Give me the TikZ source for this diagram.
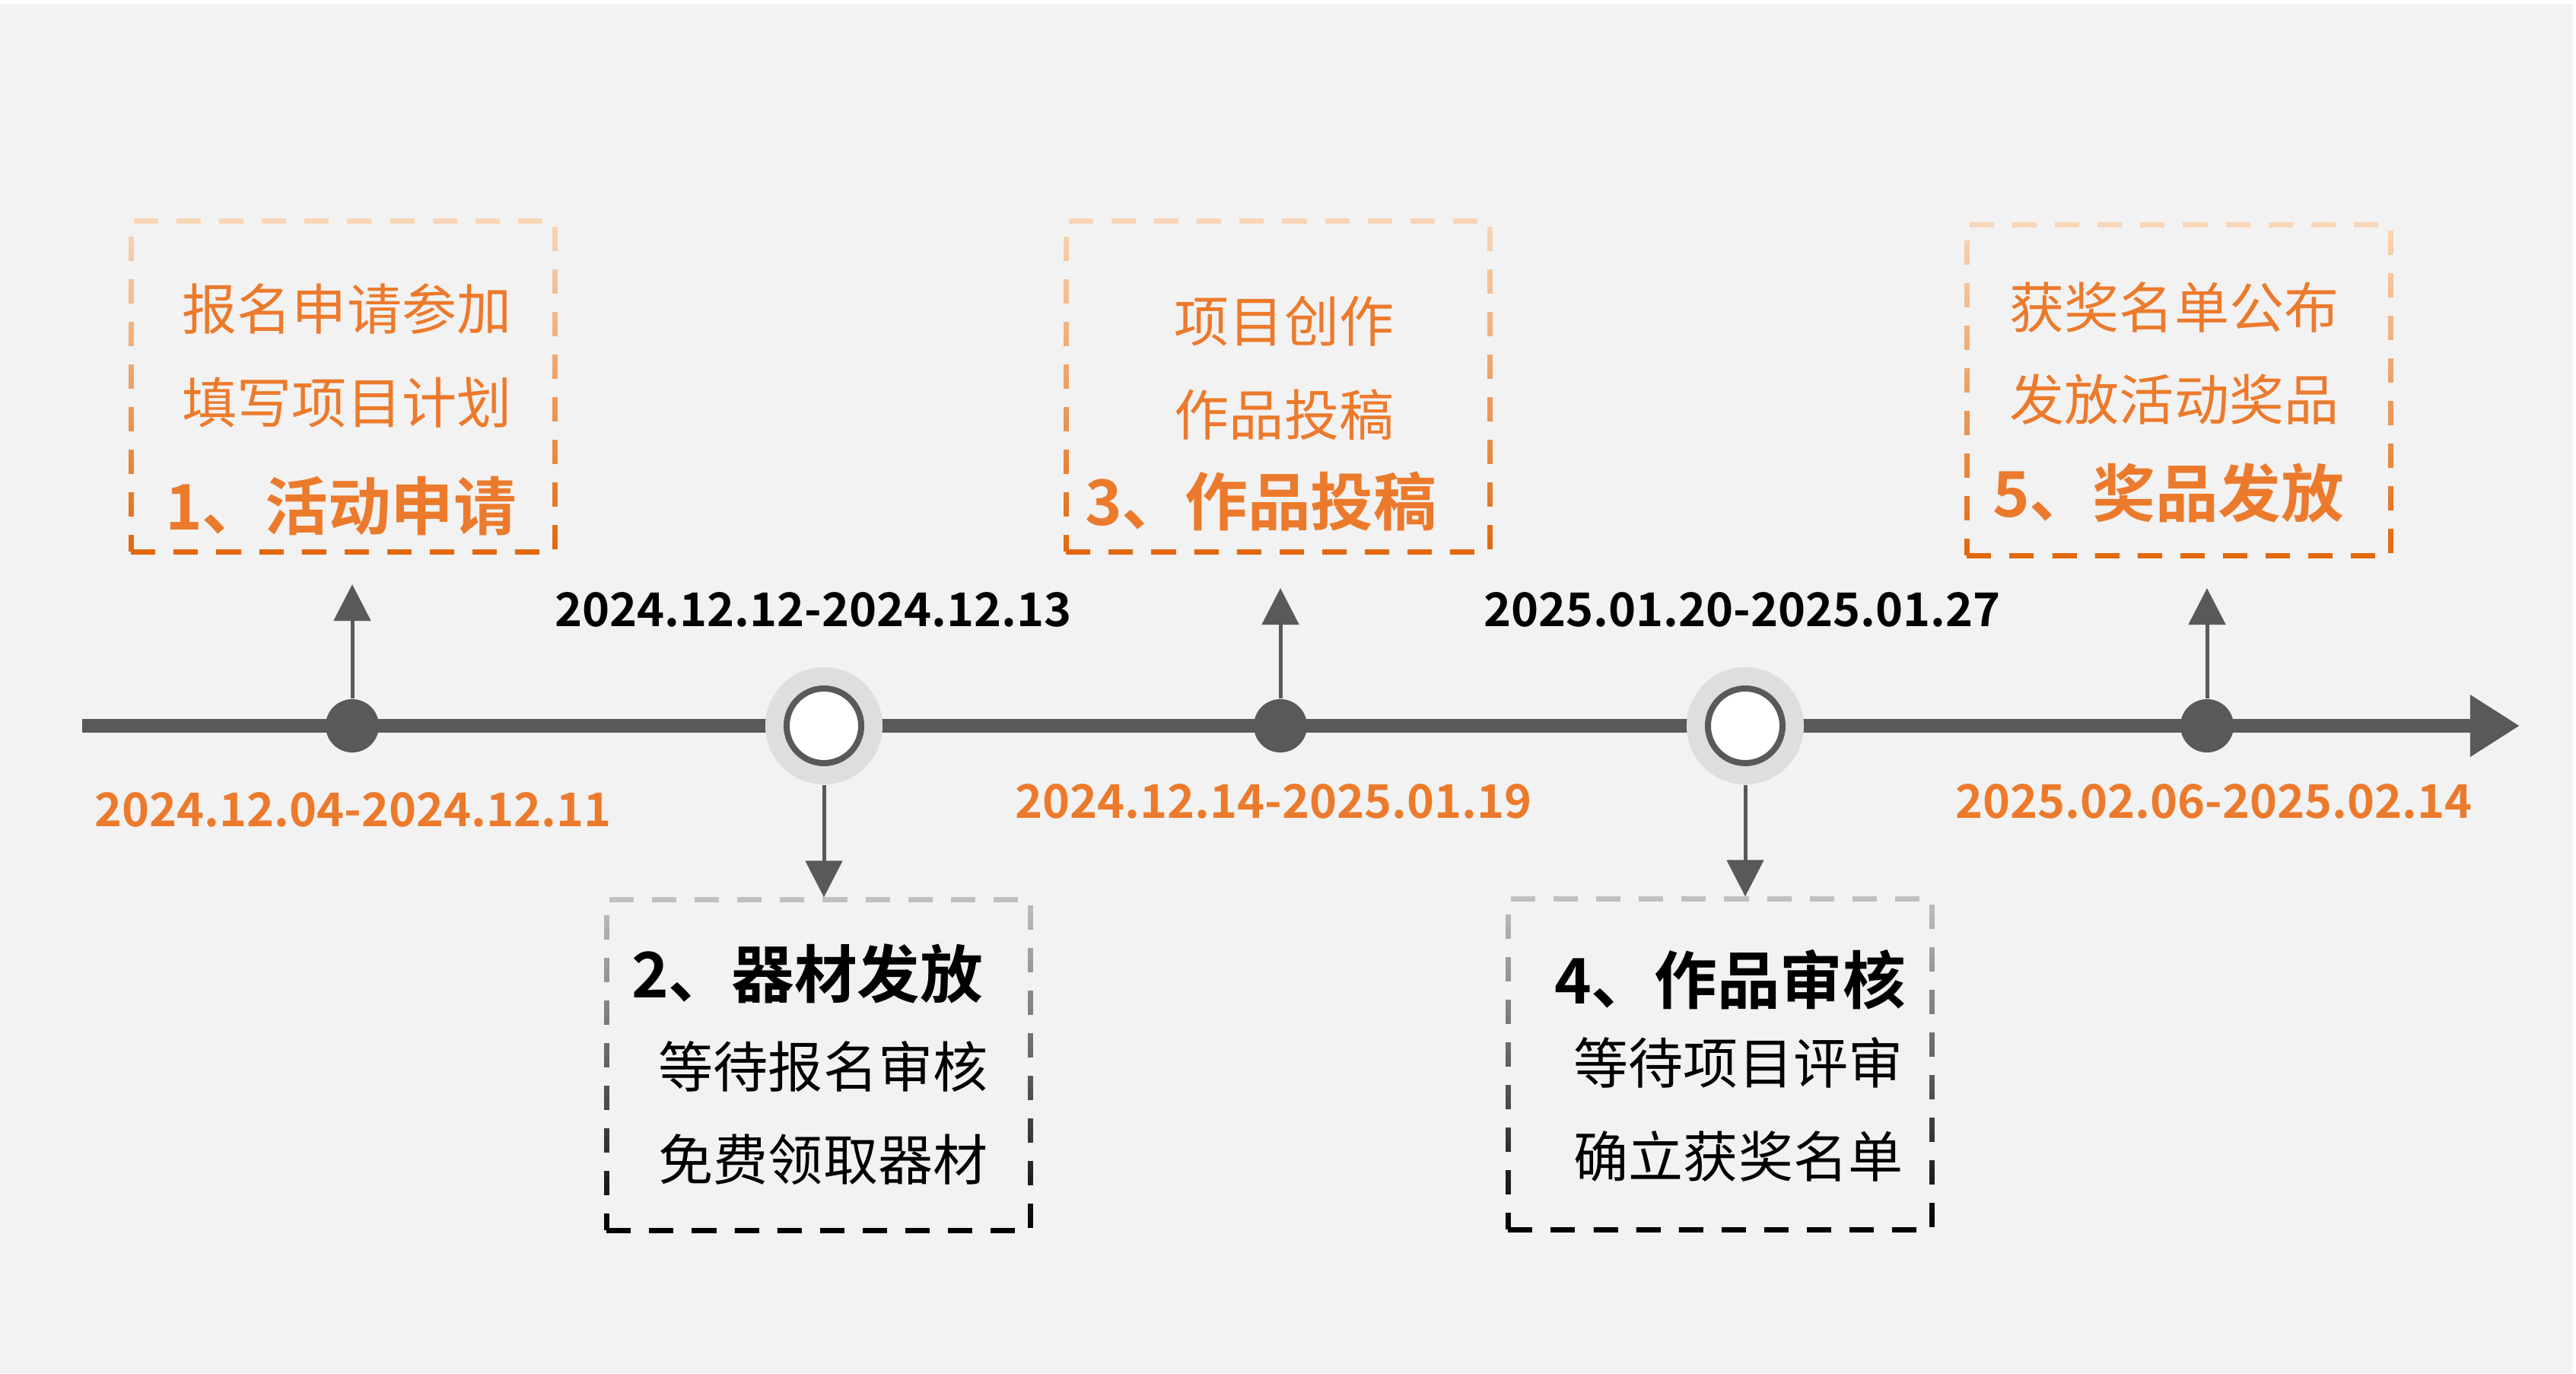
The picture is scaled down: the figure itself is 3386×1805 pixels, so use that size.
\documentclass[tikz,border=0pt]{standalone}
\usepackage{fontspec}
\setmainfont{Noto Sans CJK SC}[BoldFont={Noto Sans CJK SC Bold}]
\usetikzlibrary{calc, positioning, arrows.meta, fadings}

\definecolor{bggray}{HTML}{F2F2F2}
\definecolor{linegray}{HTML}{595959}
\definecolor{halogray}{HTML}{DEDEDE}
\definecolor{orangetxt}{HTML}{EC7A2C}
\definecolor{orangelight}{HTML}{FAD7B9}
\definecolor{orangedark}{HTML}{E2680C}
\definecolor{graylight}{HTML}{C2C2C2}

\tikzfading[name=fadetop, top color=transparent!100, bottom color=transparent!0]

\tikzset{
  stagebox/.style={rectangle, inner sep=0pt, minimum width=5.57cm, minimum height=4.34cm,
    line width=0.07cm, dash pattern=on 0.32cm off 0.24cm},
  orbox/.style={stagebox, draw=orangelight, postaction={draw=orangedark, path fading=fadetop}},
  gybox/.style={stagebox, draw=graylight, postaction={draw=black, path fading=fadetop}},
  body/.style={inner sep=0pt, font=\fontsize{20.5}{24}\selectfont},
  title/.style={inner sep=0pt, font=\fontsize{23.5}{28}\selectfont\bfseries},
  datetxt/.style={inner sep=0pt, font=\fontsize{17.4}{21}\selectfont\bfseries},
  dot/.style={circle, fill=linegray, minimum size=0.7cm, inner sep=0pt},
  halo/.style={circle, fill=halogray, minimum size=1.54cm, inner sep=0pt},
  ring/.style={circle, draw=linegray, line width=0.08cm, fill=white, minimum size=0.98cm, inner sep=0pt},
  pointer/.style={draw=linegray, line width=0.05cm, -{Triangle[length=0.48cm, width=0.48cm]}},
  mainline/.style={draw=linegray, line width=0.18cm, -{Triangle[length=0.65cm, width=0.77cm]}}
}

\begin{document}
\begin{tikzpicture}[x=0.01cm, y=-0.01cm]
  % Background
  \fill[white] (0,0) rectangle (3386,1805);
  \fill[bggray] (0,5) rectangle (3382,1805);

  % Timeline
  \coordinate (start) at (108,954);
  \coordinate (end) at (3312,954);
  \draw[mainline] (start) -- (end);

  % Stage markers
  \node[dot] (dot1) at (463,954) {};
  \node[halo] (halo2) at (1083,954) {};
  \node[ring] (ev2) at (halo2) {};
  \node[dot] (dot3) at (1683,954) {};
  \node[halo] (halo4) at (2294,954) {};
  \node[ring] (ev4) at (halo4) {};
  \node[dot] (dot5) at (2901,954) {};

  % Stage boxes
  \node[orbox] (box1) at (451,508) {};
  \node[gybox] (box2) at (1076,1400) {};
  \node[orbox] (box3) at (1680,508) {};
  \node[gybox] (box4) at (2261,1399) {};
  \node[orbox] (box5) at (2864,513) {};

  % Pointers
  \coordinate (up1) at ($(dot1)+(0,-186)$);
  \coordinate (up3) at ($(dot3)+(0,-181)$);
  \coordinate (up5) at ($(dot5)+(0,-181)$);
  \draw[pointer] (dot1) -- (up1);
  \draw[pointer] (dot3) -- (up3);
  \draw[pointer] (dot5) -- (up5);
  \draw[pointer] (halo2.south) -- (halo2 |- box2.north);
  \draw[pointer] (halo4.south) -- (halo4 |- box4.north);

  % Box 1
  \node[body, text=orangetxt] (s1a) at (456,406) {报名申请参加};
  \node[body, text=orangetxt] (s1b) at (456,529) {填写项目计划};
  \node[title, text=orangetxt] (s1t) at (448,665) {1、活动申请};

  % Box 2
  \node[title] (s2t) at (1061,1280) {2、器材发放};
  \node[body] (s2a) at (1082,1402) {等待报名审核};
  \node[body] (s2b) at (1082,1524) {免费领取器材};

  % Box 3
  \node[body, text=orangetxt] (s3a) at (1688,422) {项目创作};
  \node[body, text=orangetxt] (s3b) at (1688,545) {作品投稿};
  \node[title, text=orangetxt] (s3t) at (1657,659) {3、作品投稿};

  % Box 4
  \node[title] (s4t) at (2274,1288) {4、作品审核};
  \node[body] (s4a) at (2285,1397) {等待项目评审};
  \node[body] (s4b) at (2285,1520) {确立获奖名单};

  % Box 5
  \node[body, text=orangetxt] (s5a) at (2858,404) {获奖名单公布};
  \node[body, text=orangetxt] (s5b) at (2858,525) {发放活动奖品};
  \node[title, text=orangetxt] (s5t) at (2850,648) {5、奖品发放};

  % Dates
  \node[datetxt, text=orangetxt] (d1) at (464,1064) {2024.12.04-2024.12.11};
  \node[datetxt] (d2) at (1069,801) {2024.12.12-2024.12.13};
  \node[datetxt, text=orangetxt] (d3) at (1674,1053) {2024.12.14-2025.01.19};
  \node[datetxt] (d4) at (2290,801) {2025.01.20-2025.01.27};
  \node[datetxt, text=orangetxt] (d5) at (2910,1053) {2025.02.06-2025.02.14};
\end{tikzpicture}
\end{document}
